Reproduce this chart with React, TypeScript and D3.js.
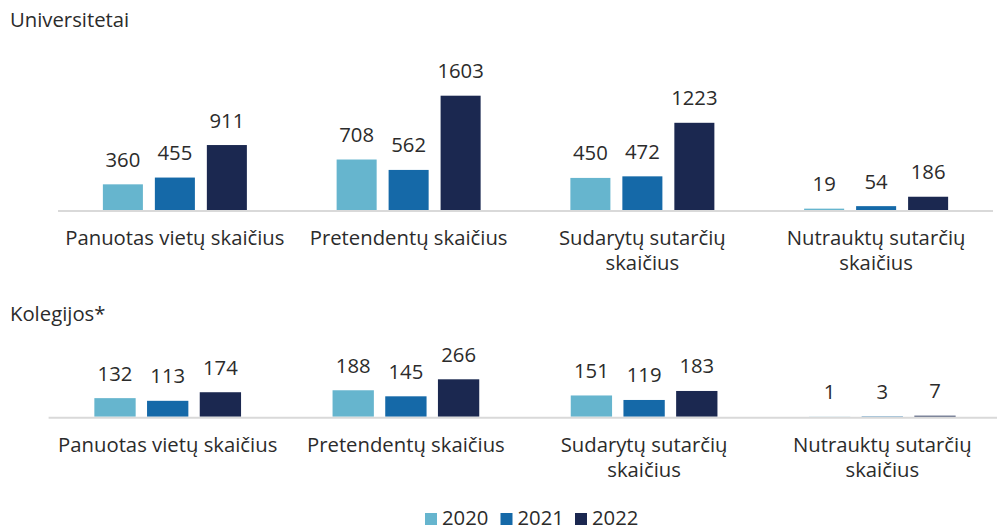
import * as d3 from "d3";

const years = ["2020", "2021", "2022"];
const colors = ["#66b5ce", "#1569a8", "#1b2850"];

const categories = [
  ["Panuotas vietų skaičius"],
  ["Pretendentų skaičius"],
  ["Sudarytų sutarčių", "skaičius"],
  ["Nutrauktų sutarčių", "skaičius"],
];

// Universitetai: one array per year, in category order
const uni2020 = [360, 708, 450, 19];
const uni2021 = [455, 562, 472, 54];
const uni2022 = [911, 1603, 1223, 186];

// Kolegijos*
const kol2020 = [132, 188, 151, 1];
const kol2021 = [113, 145, 119, 3];
const kol2022 = [174, 266, 183, 7];

const FONT = "'Open Sans', 'Noto Sans', sans-serif";
const TXT = "#2b2b2b";
const FS = 20.3;

type PanelProps = {
  title: string;
  titleY: number;
  series: number[][];
  x0: number;
  x1: number;
  base: number;
  topPx: number; // pixel height of the tallest bar
  groupW: number;
  pad: number;
};

function Panel({ title, titleY, series, x0, x1, base, topPx, groupW, pad }: PanelProps) {
  const idx = categories.map((_, i) => String(i));
  const xCat = d3.scaleBand().domain(idx).range([x0, x1]);
  const xYear = d3.scaleBand().domain(years).range([-groupW / 2, groupW / 2]).paddingInner(pad);
  const max = d3.max(series.flat()) as number;
  const y = d3.scaleLinear().domain([0, max]).range([base, base - topPx]);

  return (
    <g fontFamily={FONT} fontSize={FS} fill={TXT}>
      <text x={10} y={titleY}>
        {title}
      </text>
      {categories.map((lines, ci) => {
        const cx = (xCat(String(ci)) as number) + xCat.bandwidth() / 2;
        return (
          <g key={ci}>
            {years.map((yr, yi) => {
              const v = series[yi][ci];
              const bx = cx + (xYear(yr) as number);
              return (
                <g key={yr}>
                  <rect x={bx} y={y(v)} width={xYear.bandwidth()} height={base - y(v)} fill={colors[yi]} />
                  <text x={bx + xYear.bandwidth() / 2} y={y(v) - 17.5} textAnchor="middle">
                    {v}
                  </text>
                </g>
              );
            })}
            <text textAnchor="middle">
              {lines.map((l, li) => (
                <tspan key={li} x={cx} y={base + 35 + li * 25}>
                  {l}
                </tspan>
              ))}
            </text>
          </g>
        );
      })}
      <line x1={x0} x2={Math.min(x1, 997)} y1={base + 1} y2={base + 1} stroke="#d9d9d9" strokeWidth={2} />
    </g>
  );
}

export default function App() {
  const legendX = [425, 500.5, 575];
  return (
    <svg width={997} height={529} style={{ position: "absolute", left: 0, top: 0 }}>
      <rect width={997} height={529} fill="#fff" />
      <Panel
        title="Universitetai"
        titleY={27}
        series={[uni2020, uni2021, uni2022]}
        x0={58}
        x1={993}
        base={210}
        topPx={114.3}
        groupW={144}
        pad={0.23}
      />
      <Panel
        title="Kolegijos*"
        titleY={321}
        series={[kol2020, kol2021, kol2022]}
        x0={48.6}
        x1={1001.4}
        base={416.7}
        topPx={37.4}
        groupW={146.7}
        pad={0.216}
      />
      <g fontFamily={FONT} fontSize={FS} fill={TXT}>
        {years.map((yr, i) => (
          <g key={yr} transform={`translate(${legendX[i]},513)`}>
            <rect width={12} height={12} fill={colors[i]} />
            <text x={17} y={11.5}>
              {yr}
            </text>
          </g>
        ))}
      </g>
    </svg>
  );
}
